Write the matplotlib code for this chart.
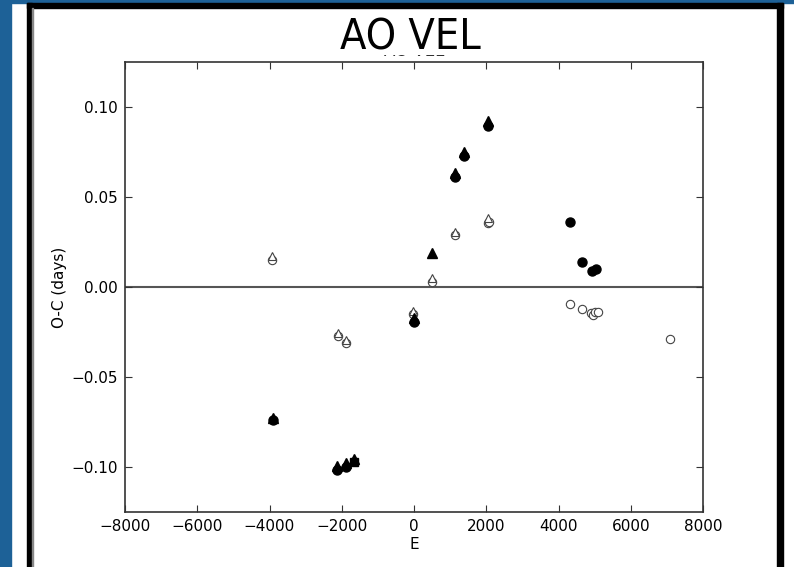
import matplotlib.pyplot as plt
from matplotlib.patches import Rectangle

# O-C data for AO Vel
# primary minima (filled circles)
e_prim_c = [-3906, -2124, -1893, 0, 1136, 1394, 2040, 4321, 4645, 4940, 5041]
oc_prim_c = [-0.0739, -0.1017, -0.0998, -0.0193, 0.0613, 0.0728, 0.0897, 0.0363, 0.0139, 0.0089, 0.0102]
# primary minima, second solution (filled triangles)
e_prim_t = [-3906, -2124, -1893, -1653, 0, 490, 1136, 1394, 2040]
oc_prim_t = [-0.0725, -0.0995, -0.0980, -0.0958, -0.0170, 0.0189, 0.0635, 0.0750, 0.0920]
# odd one (filled square)
e_prim_s = [-1653]
oc_prim_s = [-0.0972]
# secondary minima (open circles)
e_sec_c = [-3925, -2096, -1893, -19, 490, 1136, 2040, 2080, 4321, 4645, 4894, 4950, 5014, 5106, 7091]
oc_sec_c = [0.0150, -0.0272, -0.0313, -0.0150, 0.0030, 0.0287, 0.0358, 0.0363, -0.0093, -0.0122,
            -0.0146, -0.0154, -0.0137, -0.0137, -0.0290]
# secondary minima, second solution (open triangles)
e_sec_t = [-3925, -2096, -1893, -19, 490, 1136, 2040]
oc_sec_t = [0.0172, -0.0255, -0.0296, -0.0135, 0.0048, 0.0305, 0.0382]

W, H = 794, 567
fig = plt.figure(figsize=(W / 100, H / 100), dpi=100)
fig.patch.set_facecolor('white')

# slide decoration
blue = '#1d6197'
fig.add_artist(Rectangle((0, 0), 11 / W, 1, transform=fig.transFigure, color=blue, zorder=6))
fig.add_artist(Rectangle((0, 1 - 3 / H), 1, 3 / H, transform=fig.transFigure, color=blue, zorder=6))
fig.add_artist(Rectangle((27 / W, 0), 5 / W, 1 - 3 / H, transform=fig.transFigure, color='black', zorder=6))
fig.add_artist(Rectangle((27 / W, 1 - 8 / H), 756 / W, 5 / H, transform=fig.transFigure, color='black', zorder=6))
fig.add_artist(Rectangle((777 / W, 0), 6 / W, 1 - 3 / H, transform=fig.transFigure, color='black', zorder=6))
fig.add_artist(Rectangle((32 / W, 0), 1 / W, 1 - 8 / H, transform=fig.transFigure, color='#888888', zorder=6))

ax = fig.add_axes([125 / W, 1 - 512 / H, 578 / W, 450 / H])

ax.axhline(0, color='#555555', lw=1.5, zorder=1)

ax.plot(e_sec_c, oc_sec_c, 'o', ms=6, mfc='white', mec='#444444', mew=0.8, ls='none', zorder=2)
ax.plot(e_sec_t, oc_sec_t, '^', ms=6, mfc='white', mec='#444444', mew=0.8, ls='none', zorder=3)
ax.plot(e_prim_t, oc_prim_t, '^', ms=6.5, color='black', ls='none', zorder=4)
ax.plot(e_prim_c, oc_prim_c, 'o', ms=6.5, color='black', ls='none', zorder=5)
ax.plot(e_prim_s, oc_prim_s, 's', ms=6, color='black', ls='none', zorder=5)

ax.set_xlim(-8000, 8000)
ax.set_ylim(-0.125, 0.125)
ax.set_xticks(range(-8000, 8001, 2000))
ax.set_yticks([-0.10, -0.05, 0.00, 0.05, 0.10])
ax.tick_params(direction='in', top=True, right=True, length=5, labelsize=11, color='#333333', pad=5)
for s in ax.spines.values():
    s.set_color('#333333')
    s.set_linewidth(1.2)
ax.set_xlabel('E', fontsize=11, labelpad=2)
ax.set_ylabel('O-C (days)', fontsize=11, labelpad=3)

# original small plot title, mostly covered by the slide title
fig.text(414 / W, 1 - 56 / H, 'AO VEL', ha='center', va='baseline', fontsize=12, color='black', zorder=2)
fig.add_artist(Rectangle((360 / W, 1 - 53.5 / H), 110 / W, 46 / H, transform=fig.transFigure,
                         color='white', zorder=3))
fig.text(410 / W, 1 - 50 / H, 'AO VEL', ha='center', va='baseline', fontsize=31,
         family='DejaVu Sans', fontstretch='condensed', color='black', zorder=4)

fig.savefig('out.png', dpi=100)
